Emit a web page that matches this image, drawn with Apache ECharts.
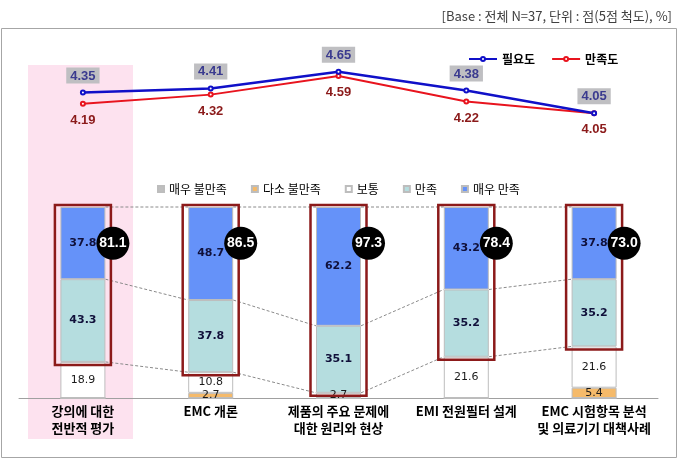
<!DOCTYPE html>
<html>
<head>
<meta charset="utf-8">
<script src="https://cdn.jsdelivr.net/npm/echarts@6/dist/echarts.min.js"></script>
<style>html,body{margin:0;padding:0;background:#fff;}#c{width:687px;height:461px;}</style>
</head>
<body>
<div id="c"></div>
<script>
const categories = ['강의에 대한\n전반적 평가', 'EMC 개론', '제품의 주요 문제에\n대한 원리와 현상', 'EMI 전원필터 설계', 'EMC 시험항목 분석\n및 의료기기 대책사례'];
const seriesNames = ['매우 불만족', '다소 불만족', '보통', '만족', '매우 만족'];
const veryDissat = [0, 0, 0, 0, 0];
const someDissat = [0, 2.7, 0, 0, 5.4];
const neutral = [18.9, 10.8, 2.7, 21.6, 21.6];
const satisfied = [43.3, 37.8, 35.1, 35.2, 35.2];
const verySat = [37.8, 48.7, 62.2, 43.2, 37.8];
const topTwo = [81.1, 86.5, 97.3, 78.4, 73.0];
const lineNames = ['필요도', '만족도'];
const need = [4.35, 4.41, 4.65, 4.38, 4.05];
const satisfaction = [4.19, 4.32, 4.59, 4.22, 4.05];

const barSets = [veryDissat, someDissat, neutral, satisfied, verySat];
const barColors = ['#BFBFBF', '#F5BA6A', '#FFFFFF', '#B5DDDF', '#6592F9'];
const cum = (upto) => categories.map((c, i) => {
  let s = 0; for (let k = 0; k <= upto; k++) s += barSets[k][i]; return +s.toFixed(1);
});
const neutralCum = cum(2), satCum = cum(3), totCum = cum(4);

const chart = echarts.init(document.getElementById('c'), null, {renderer: 'canvas'});

const barSeries = seriesNames.map((n, k) => ({
  type: 'bar', name: n, stack: 'a', xAxisIndex: 0, yAxisIndex: 0,
  data: barSets[k], barWidth: 45,
  itemStyle: {color: barColors[k], borderColor: '#BDBDBD', borderWidth: 1},
  label: {
    show: true, position: 'inside', fontSize: 11, fontFamily: 'DejaVu Sans',
    fontWeight: k >= 3 ? 'bold' : 'normal', color: k >= 3 ? '#10103A' : '#1a1a1a',
    formatter: p => p.value ? p.value.toFixed(1) : ''
  },
  z: 3
}));

const option = {
  animation: false,
  title: {
    text: '[Base : 전체 N=37, 단위 : 점(5점 척도), %]', right: 10, top: 5,
    textStyle: {fontSize: 13, fontWeight: 'normal', color: '#404040', fontFamily: 'Noto Sans CJK KR'}
  },
  graphic: [
    {type: 'rect', z: -10, shape: {x: 28, y: 65, width: 105, height: 374}, style: {fill: '#FDE2EF'}},
    {type: 'rect', z: -10, shape: {x: 1.5, y: 28.5, width: 675, height: 429}, style: {fill: null, stroke: '#A6A6A6', lineWidth: 1}}
  ],
  grid: [
    {left: 19, right: 29, top: 207, bottom: 63},
    {left: 19, right: 29, top: 47.5, bottom: 344.2}
  ],
  xAxis: [
    {type: 'category', gridIndex: 0, data: categories,
     axisLine: {lineStyle: {color: '#A0A0A0'}},
     axisTick: {inside: true, length: 5, lineStyle: {color: '#A0A0A0'}},
     axisLabel: {interval: 0, fontSize: 13, fontWeight: 'bold', color: '#000', lineHeight: 17, margin: 5, fontFamily: 'Noto Sans CJK KR'}},
    {type: 'category', gridIndex: 1, data: categories, show: false}
  ],
  yAxis: [
    {type: 'value', gridIndex: 0, min: 0, max: 100, show: false},
    {type: 'value', gridIndex: 1, min: 4, max: 5, show: false}
  ],
  legend: [
    {data: seriesNames, left: 152, top: 178, itemWidth: 6, itemHeight: 6, itemGap: 24, icon: 'rect',
     textStyle: {fontSize: 12, color: '#000', fontFamily: 'Noto Sans CJK KR'}},
    {data: lineNames, left: 463, top: 48, itemWidth: 28, itemHeight: 5, itemGap: 16,
     textStyle: {fontSize: 12, fontWeight: 'bold', color: '#000', fontFamily: 'Noto Sans CJK KR'}}
  ],
  series: [
    {
      type: 'custom', xAxisIndex: 0, yAxisIndex: 0, silent: true, z: 1,
      data: categories.slice(0, -1).map((c, i) => [i, neutralCum[i], satCum[i], totCum[i], neutralCum[i + 1], satCum[i + 1], totCum[i + 1]]),
      renderItem: (params, api) => {
        const i = api.value(0);
        const hw = 22.5;
        const children = [];
        for (let k = 0; k < 3; k++) {
          const p1 = api.coord([i, api.value(1 + k)]);
          const p2 = api.coord([i + 1, api.value(4 + k)]);
          children.push({type: 'line', shape: {x1: p1[0] + hw, y1: p1[1], x2: p2[0] - hw, y2: p2[1]},
            style: {stroke: '#8A8A8A', lineWidth: 1, lineDash: [3, 2]}});
        }
        return {type: 'group', children};
      }
    },
    ...barSeries,
    {
      type: 'custom', xAxisIndex: 0, yAxisIndex: 0, silent: true, z: 5,
      data: categories.map((c, i) => [i, totCum[i], neutralCum[i]]),
      renderItem: (params, api) => {
        const i = api.value(0);
        const t = api.coord([i, api.value(1)]);
        const b = api.coord([i, api.value(2)]);
        return {type: 'rect', shape: {x: t[0] - 28, y: t[1] - 2, width: 56, height: b[1] - t[1] + 5},
          style: {fill: null, stroke: '#8C1A1A', lineWidth: 2.5}};
      }
    },
    {
      type: 'custom', xAxisIndex: 0, yAxisIndex: 0, silent: true, z: 6,
      data: topTwo.map((v, i) => [i, v]),
      renderItem: (params, api) => {
        const i = api.value(0);
        const p = api.coord([i, 81]);
        const cx = p[0] + 30, cy = p[1];
        return {type: 'group', children: [
          {type: 'circle', shape: {cx, cy, r: 16.5}, style: {fill: '#000'}},
          {type: 'text', style: {text: api.value(1).toFixed(1), x: cx, y: cy, align: 'center', verticalAlign: 'middle',
            fill: '#fff', font: 'bold 14px "Liberation Sans", Arial'}}
        ]};
      }
    },
    {
      type: 'line', name: '만족도', xAxisIndex: 1, yAxisIndex: 1, data: satisfaction,
      symbol: 'emptyCircle', symbolSize: 4, z: 4,
      lineStyle: {color: '#E8141E', width: 2}, itemStyle: {color: '#E8141E'},
      label: {show: true, position: 'bottom', distance: 7, color: '#8B1A1A', fontSize: 13, fontWeight: 'bold',
        fontFamily: 'Liberation Sans', formatter: p => p.value.toFixed(2)}
    },
    {
      type: 'line', name: '필요도', xAxisIndex: 1, yAxisIndex: 1, data: need,
      symbol: 'emptyCircle', symbolSize: 4, z: 4,
      lineStyle: {color: '#1010C8', width: 2.5}, itemStyle: {color: '#1010C8'},
      label: {show: true, position: 'top', distance: 6, backgroundColor: '#BFBFC2', padding: [2, 4, 1, 4],
        color: '#3B3B8F', fontSize: 13, fontWeight: 'bold', fontFamily: 'Liberation Sans', formatter: p => p.value.toFixed(2)}
    }
  ]
};
chart.setOption(option);
</script>
</body>
</html>
